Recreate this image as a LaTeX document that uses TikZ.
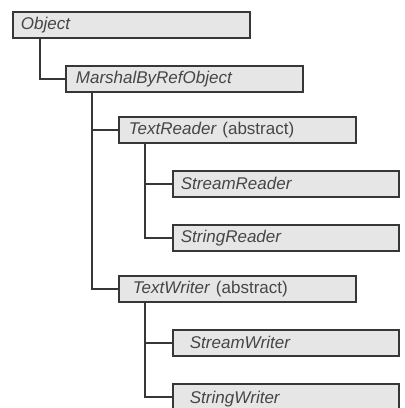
\documentclass[tikz,border=0pt]{standalone}
\usepackage{fontspec}
\setmainfont{Liberation Sans}
\usetikzlibrary{shadows}
\definecolor{boxfill}{RGB}{230,230,230}
\definecolor{boxline}{RGB}{55,55,55}
\definecolor{classgray}{RGB}{70,70,70}

\tikzset{
  classbox/.style={draw=boxline, line width=1.8pt, fill=boxfill, anchor=north west,
    inner xsep=8pt, inner ysep=0pt, minimum height=26pt, align=left,
    text=classgray, font=\fontsize{17}{19}\selectfont\itshape,
    drop shadow={shadow xshift=1.2pt, shadow yshift=-1.2pt, fill=gray!70}},
  basebox/.style={classbox, text width=221pt},
  leafbox/.style={classbox, text width=210pt},
  indent/.style={execute at begin node={\hspace*{#1}}},
  link/.style={draw=boxline, line width=1.6pt}
}

\begin{document}
\begin{tikzpicture}[x=1pt,y=-1pt]
  \useasboundingbox (0,0) rectangle (405,408);
  % Base classes
  \node[basebox] (object) at (12,11) {Object};
  \node[basebox, indent=2pt] (marshal) at (65,65) {MarshalByRefObject};
  % Readers
  \node[basebox, indent=2pt] (reader) at (118,116) {TextReader \textup{(abstract)}};
  \node[leafbox] (streamreader) at (172,170) {StreamReader};
  \node[leafbox] (stringreader) at (172,224) {StringReader};
  % Writers
  \node[basebox, indent=6pt] (writer) at (118,275) {TextWriter \textup{(abstract)}};
  \node[leafbox, indent=9pt] (streamwriter) at (172,329) {StreamWriter};
  \node[leafbox, indent=9pt, minimum height=30pt] (stringwriter) at (172,383) {StringWriter};
  % Tree lines
  \draw[link] ([xshift=28pt]object.south west) |- (marshal.west);
  \draw[link] ([xshift=27pt]marshal.south west) |- (reader.west);
  \draw[link] ([xshift=27pt]marshal.south west) |- (writer.west);
  \draw[link] ([xshift=27pt]reader.south west) |- (streamreader.west);
  \draw[link] ([xshift=27pt]reader.south west) |- (stringreader.west);
  \draw[link] ([xshift=27pt]writer.south west) |- (streamwriter.west);
  \draw[link] ([xshift=27pt]writer.south west) |- ([yshift=2pt]stringwriter.west);
\end{tikzpicture}
\end{document}
